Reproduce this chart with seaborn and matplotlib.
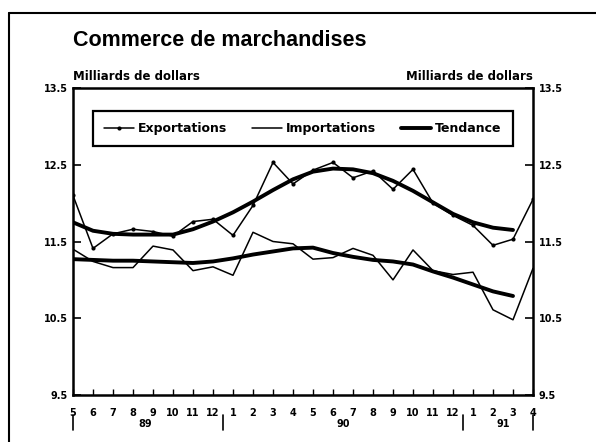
import numpy as np
import pandas as pd
import seaborn as sns
import matplotlib.pyplot as plt
from matplotlib.lines import Line2D

# months from May 1989 to April 1991
months = ["5", "6", "7", "8", "9", "10", "11", "12",
          "1", "2", "3", "4", "5", "6", "7", "8", "9", "10", "11", "12",
          "1", "2", "3", "4"]
years = ["89", "90", "91"]

exports = [12.10, 11.41, 11.60, 11.66, 11.63, 11.57, 11.76, 11.79,
           11.58, 11.97, 12.53, 12.25, 12.43, 12.53, 12.33, 12.42, 12.18, 12.44, 12.00, 11.84,
           11.71, 11.45, 11.53, 12.05]
imports = [11.40, 11.24, 11.16, 11.16, 11.44, 11.39, 11.12, 11.17,
           11.06, 11.62, 11.50, 11.47, 11.27, 11.29, 11.41, 11.32, 11.00, 11.39, 11.12, 11.07,
           11.10, 10.61, 10.48, 11.15]
# trend lines stop at March 1991
exp_trend = [11.75, 11.64, 11.60, 11.59, 11.59, 11.59, 11.66, 11.76,
             11.88, 12.02, 12.17, 12.31, 12.41, 12.45, 12.44, 12.39, 12.29, 12.16, 12.01, 11.86,
             11.75, 11.68, 11.65]
imp_trend = [11.27, 11.26, 11.25, 11.25, 11.24, 11.23, 11.22, 11.24,
             11.28, 11.33, 11.37, 11.41, 11.42, 11.35, 11.30, 11.26, 11.24, 11.20, 11.11, 11.03,
             10.94, 10.85, 10.79]
yticks = [9.5, 10.5, 11.5, 12.5, 13.5]

W, H = 596, 442

sns.set_style("ticks")
plt.rcParams["font.family"] = ["DejaVu Sans"]
plt.rcParams["font.weight"] = "bold"
for k in ["text.color", "axes.edgecolor", "xtick.color", "ytick.color", "axes.labelcolor"]:
    plt.rcParams[k] = "black"

df = pd.DataFrame({"t": np.arange(len(months)), "exp": exports, "imp": imports})
df_tr = pd.DataFrame({"t": np.arange(len(exp_trend)), "exp": exp_trend, "imp": imp_trend})

fig = plt.figure(figsize=(W / 100, H / 100), dpi=100)
ax = fig.add_axes([73 / W, 1 - 395 / H, 460 / W, 307 / H])

sns.lineplot(x="t", y="exp", data=df, ax=ax, color="black", lw=1.1,
             marker="o", markersize=3, markeredgewidth=0, label="Exportations")
sns.lineplot(x="t", y="imp", data=df, ax=ax, color="black", lw=1.1, label="Importations")
sns.lineplot(x="t", y="exp", data=df_tr, ax=ax, color="black", lw=2.8, label="Tendance")
sns.lineplot(x="t", y="imp", data=df_tr, ax=ax, color="black", lw=2.8, label="_nolegend_")

ax.set_xlim(0, len(months) - 1)
ax.set_ylim(9.5, 13.5)
ax.set_yticks(yticks)
ax.set_yticklabels([f"{v:.1f}" for v in yticks], fontsize=7, fontweight="bold")
ax.set_xticks(range(len(months)))
ax.set_xticklabels(months, fontsize=7, fontweight="bold")
ax.set_xlabel("")
ax.set_ylabel("")
ax.tick_params(axis="y", direction="in", length=6, width=1.2, left=True, right=True,
               labelleft=True, labelright=True, pad=4)
ax.tick_params(axis="x", direction="in", length=4, width=1, pad=9)
for s in ax.spines.values():
    s.set_linewidth(1.8)
    s.set_visible(True)

leg = ax.legend(loc="center", bbox_to_anchor=(0.5, 0.868), ncol=3, frameon=True,
                fancybox=False, edgecolor="black", framealpha=1, handlelength=2.4,
                handletextpad=0.3, columnspacing=2.0, borderpad=0.9,
                prop={"weight": "bold", "size": 9})
leg.get_frame().set_linewidth(1.6)
leg.get_frame().set_facecolor("white")

# year separators and labels below month labels
xt = ax.get_xaxis_transform()
for xs in [0, 7.5, 19.5, 23]:
    ax.plot([xs, xs], [-0.065, -0.115], transform=xt, color="black", lw=1.2, clip_on=False)
for xs, yr in zip([3.6, 13.5, 21.5], years):
    ax.text(xs, -0.095, yr, transform=xt, ha="center", va="center",
            fontsize=7, fontweight="bold")

# titles
fig.text(73 / W, 1 - 41 / H, "Commerce de marchandises", ha="left", va="center",
         fontsize=15.5, fontweight="bold", family=["Liberation Sans", "DejaVu Sans"])
fig.text(73 / W, 1 - 76 / H, "Milliards de dollars", ha="left", va="center",
         fontsize=8.5, fontweight="bold")
fig.text(533 / W, 1 - 76 / H, "Milliards de dollars", ha="right", va="center",
         fontsize=8.5, fontweight="bold")

# outer frame
fig.add_artist(Line2D([9 / W, 9 / W], [0, 1 - 13 / H], transform=fig.transFigure,
                      color="black", lw=1.5))
fig.add_artist(Line2D([9 / W, 1], [1 - 13 / H, 1 - 13 / H], transform=fig.transFigure,
                      color="black", lw=1.5))

fig.savefig("out.png", dpi=100)
